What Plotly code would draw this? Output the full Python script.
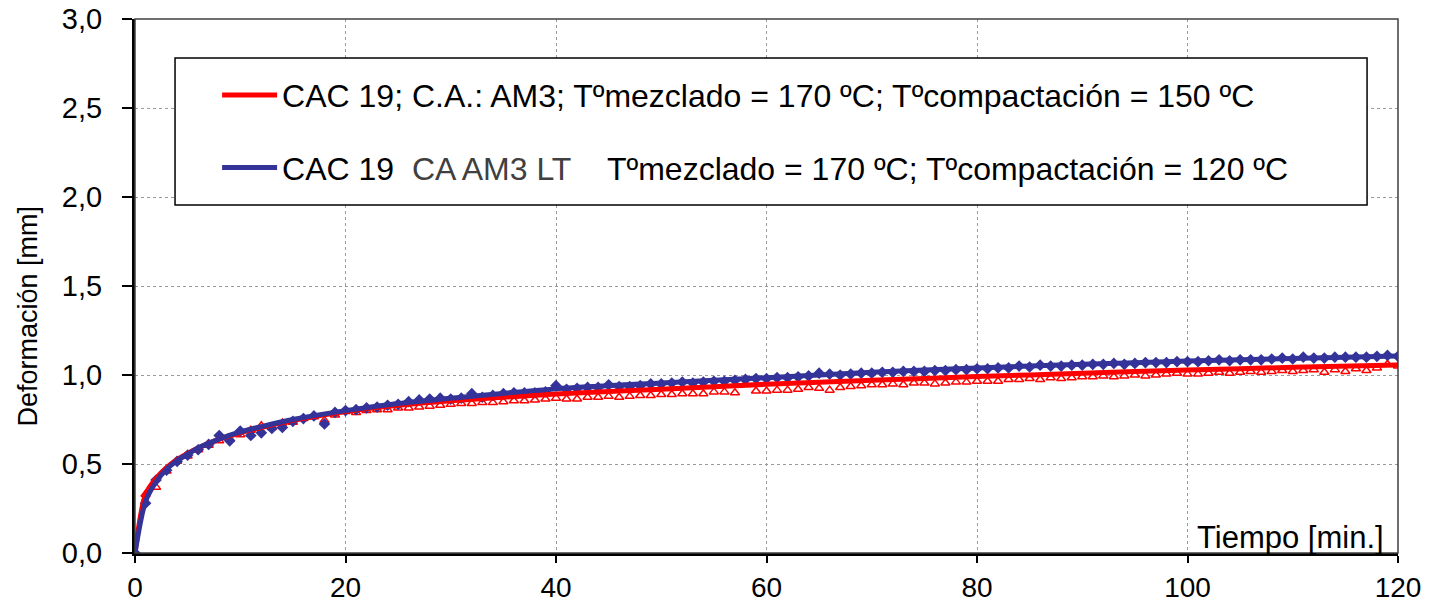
import plotly.graph_objects as go

# ---------------- data ----------------
t_min = list(range(0, 121))

red_points = [
    0.000, 0.330, 0.370, 0.460, 0.515, 0.545, 0.580, 0.605, 0.630, 0.640,
    0.665, 0.690, 0.715, 0.705, 0.730, 0.735, 0.755, 0.765, 0.745, 0.775,
    0.795, 0.790, 0.800, 0.805, 0.805, 0.815, 0.815, 0.820, 0.825, 0.830,
    0.835, 0.840, 0.840, 0.845, 0.845, 0.850, 0.855, 0.855, 0.860, 0.865,
    0.870, 0.865, 0.865, 0.875, 0.875, 0.880, 0.875, 0.880, 0.885, 0.885,
    0.890, 0.890, 0.895, 0.895, 0.895, 0.905, 0.905, 0.900, 0.950, 0.910,
    0.910, 0.915, 0.915, 0.920, 0.930, 0.925, 0.915, 0.930, 0.935, 0.940,
    0.945, 0.945, 0.950, 0.945, 0.955, 0.955, 0.950, 0.955, 0.960, 0.960,
    0.965, 0.965, 0.965, 0.975, 0.975, 0.980, 0.975, 0.985, 0.980, 0.985,
    0.990, 0.990, 0.995, 0.990, 0.995, 1.000, 0.995, 1.000, 1.005, 1.010,
    1.005, 1.005, 1.010, 1.015, 1.010, 1.015, 1.020, 1.015, 1.020, 1.025,
    1.020, 1.025, 1.030, 1.015, 1.030, 1.020, 1.035, 1.025, 1.040, 1.060,
    1.050,
]

blue_points = [
    0.000, 0.280, 0.410, 0.465, 0.515, 0.550, 0.580, 0.610, 0.660, 0.630,
    0.685, 0.660, 0.675, 0.700, 0.705, 0.740, 0.755, 0.770, 0.725, 0.790,
    0.800, 0.805, 0.815, 0.820, 0.830, 0.835, 0.850, 0.860, 0.865, 0.870,
    0.865, 0.870, 0.895, 0.875, 0.885, 0.895, 0.900, 0.900, 0.900, 0.905,
    0.940, 0.920, 0.925, 0.930, 0.930, 0.945, 0.935, 0.935, 0.940, 0.950,
    0.950, 0.955, 0.960, 0.955, 0.960, 0.965, 0.965, 0.970, 0.975, 0.980,
    0.980, 0.985, 0.985, 0.990, 0.995, 1.010, 1.005, 1.000, 1.005, 1.010,
    1.010, 1.015, 1.015, 1.020, 1.020, 1.020, 1.025, 1.025, 1.030, 1.030,
    1.035, 1.035, 1.040, 1.040, 1.050, 1.045, 1.055, 1.050, 1.050, 1.055,
    1.055, 1.060, 1.060, 1.065, 1.060, 1.065, 1.070, 1.070, 1.070, 1.075,
    1.075, 1.075, 1.080, 1.085, 1.080, 1.085, 1.085, 1.085, 1.090, 1.095,
    1.090, 1.100, 1.095, 1.095, 1.100, 1.100, 1.100, 1.100, 1.105, 1.110,
    1.105,
]

# trend curves
curve_t = [0, 1, 2, 3, 4, 5, 6, 8, 10, 12, 15, 20, 25, 30, 40, 50, 60, 70, 80, 90, 100, 110, 120]
red_curve = [0.0, 0.33, 0.42, 0.48, 0.525, 0.56, 0.59, 0.64, 0.675, 0.705, 0.745, 0.795,
             0.83, 0.855, 0.893, 0.92, 0.948, 0.97, 0.991, 1.01, 1.028, 1.043, 1.056]
blue_curve = [0.0, 0.29, 0.40, 0.47, 0.52, 0.555, 0.59, 0.64, 0.68, 0.71, 0.75, 0.80,
              0.84, 0.87, 0.922, 0.955, 0.985, 1.015, 1.04, 1.06, 1.078, 1.093, 1.107]

red_name = "CAC 19; C.A.: AM3; Tºmezclado = 170 ºC; Tºcompactación = 150 ºC"
blue_name = ("CAC 19\u00a0\u00a0<span style='color:#404040'>CA AM3 LT</span>"
             "\u00a0\u00a0\u00a0\u00a0Tºmezclado = 170 ºC; Tºcompactación = 120 ºC")

x_ticks = [0, 20, 40, 60, 80, 100, 120]
y_ticks = [0.0, 0.5, 1.0, 1.5, 2.0, 2.5, 3.0]

RED = "#FF0000"
BLUE = "#333399"
FONT = "Liberation Sans, Arial, sans-serif"

fig = go.Figure()

fig.add_trace(go.Scatter(
    x=t_min, y=red_points, mode="markers", showlegend=False, hoverinfo="skip",
    marker=dict(symbol="triangle-up", size=8, color="white",
                line=dict(color=RED, width=1.5)),
))
fig.add_trace(go.Scatter(
    x=t_min, y=blue_points, mode="markers", showlegend=False, hoverinfo="skip",
    marker=dict(symbol="diamond", size=9, color=BLUE, line=dict(width=0)),
))
fig.add_trace(go.Scatter(
    x=curve_t, y=red_curve, mode="lines", name=red_name, legendgroup="a",
    line=dict(color=RED, width=5, shape="spline", smoothing=0.8),
))
fig.add_trace(go.Scatter(
    x=curve_t, y=blue_curve, mode="lines", name=blue_name, legendgroup="b",
    line=dict(color=BLUE, width=5, shape="spline", smoothing=0.8),
))

# legend box
fig.add_shape(type="rect", xref="paper", yref="paper",
              x0=0.0317, x1=0.9755, y0=0.6517, y1=0.927,
              line=dict(color="black", width=1.5), fillcolor="white", layer="above")
# plot frame (top/right)
fig.add_shape(type="rect", xref="paper", yref="paper", x0=0, x1=1, y0=0, y1=1,
              line=dict(color="#404040", width=1.5), layer="above")

fig.add_annotation(text="Tiempo [min.]", xref="paper", yref="paper",
                   x=0.9905, y=0.0, xanchor="right", yanchor="bottom", yshift=-4,
                   showarrow=False, font=dict(family=FONT, size=31, color="black"))

# y-axis title (placed below the axis centre as in the original)
fig.add_annotation(text="Deformación [mm]", xref="paper", yref="paper",
                   x=-0.0847, y=0.443, xanchor="center", yanchor="middle",
                   textangle=-90, showarrow=False,
                   font=dict(family=FONT, size=27, color="black"))

fig.update_layout(
    width=1432, height=609,
    margin=dict(l=135, r=34, t=19, b=56, autoexpand=False),
    paper_bgcolor="white", plot_bgcolor="white",
    separators=",.",
    font=dict(family=FONT, color="black"),
    showlegend=True,
    legend=dict(x=0.065, y=0.909, xanchor="left", yanchor="top",
                bgcolor="rgba(0,0,0,0)", borderwidth=0,
                font=dict(family=FONT, size=32, color="black"),
                itemwidth=55, tracegroupgap=28, traceorder="grouped"),
)

fig.update_xaxes(
    range=[0, 120], tickvals=x_ticks, ticktext=[str(v) for v in x_ticks],
    automargin=False,
    showgrid=True, gridcolor="#9a9a9a", griddash="dot", gridwidth=1,
    showline=True, linecolor="black", linewidth=3,
    ticks="outside", ticklen=7, tickwidth=1.5, tickcolor="black",
    tickfont=dict(family=FONT, size=28, color="black"),
    zeroline=False,
)
fig.update_yaxes(
    range=[0, 3], tickvals=y_ticks, tickformat=".1f",
    automargin=False,
    showgrid=True, gridcolor="#9a9a9a", griddash="dot", gridwidth=1,
    showline=True, linecolor="black", linewidth=3,
    ticks="outside", ticklen=10, tickwidth=1.5, tickcolor="black",
    tickfont=dict(family=FONT, size=29, color="black"),
    ticklabelstandoff=14,
    zeroline=False,
)

fig.write_html("out.html", config={"displayModeBar": False},
               post_script="document.body.style.margin='0';document.body.style.overflow='hidden';")
